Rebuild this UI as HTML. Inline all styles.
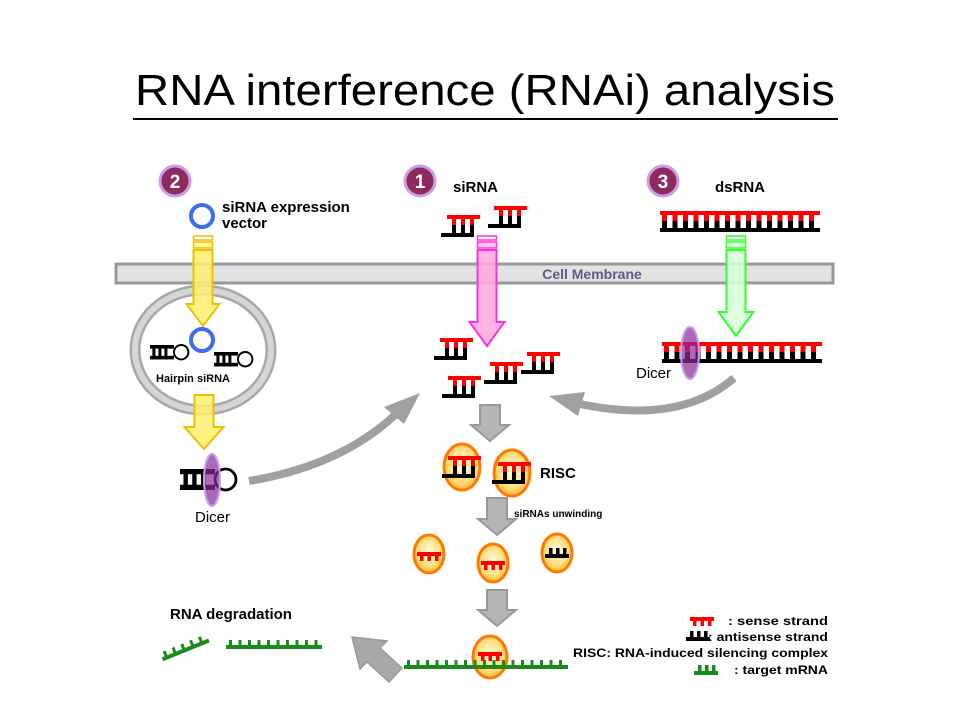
<!DOCTYPE html>
<html><head><meta charset="utf-8"><style>
html,body{margin:0;padding:0;background:#fff}
svg{display:block}
text{font-family:"Liberation Sans",sans-serif}
</style></head><body>
<svg id="s" width="960" height="720" viewBox="0 0 960 720">
<defs>
<radialGradient id="rg" cx="50%" cy="45%" r="55%"><stop offset="0" stop-color="#fffbe8"/><stop offset="0.6" stop-color="#ffe28a"/><stop offset="1" stop-color="#ffc040"/></radialGradient>
</defs>
<text x="485" y="105" font-size="44" text-anchor="middle" fill="#000" textLength="700" lengthAdjust="spacingAndGlyphs">RNA interference (RNAi) analysis</text>
<line x1="133" y1="119" x2="838" y2="119" stroke="#000" stroke-width="2"/>
<rect x="116" y="264" width="717" height="19" fill="#e2e2e2" stroke="#999" stroke-width="3"/>
<text x="592" y="279" font-size="14" font-weight="bold" fill="#5c5c8a" text-anchor="middle">Cell Membrane</text>
<g id="g"></g>
<text x="222" y="212" font-size="15" font-weight="bold">siRNA expression</text>
<text x="222" y="228" font-size="15" font-weight="bold">vector</text>
<text x="453" y="192" font-size="15" font-weight="bold">siRNA</text>
<text x="715" y="192" font-size="15" font-weight="bold">dsRNA</text>
<text x="156" y="382" font-size="11" font-weight="bold">Hairpin siRNA</text>
<text x="195" y="522" font-size="15">Dicer</text>
<text x="636" y="378" font-size="15">Dicer</text>
<text x="540" y="478" font-size="15" font-weight="bold">RISC</text>
<text x="514" y="517" font-size="10" font-weight="bold">siRNAs unwinding</text>
<text x="170" y="619" font-size="15" font-weight="bold">RNA degradation</text>
<g font-size="12" font-weight="bold">
<text x="728" y="625" textLength="100" lengthAdjust="spacingAndGlyphs">: sense  strand</text>
<text x="708" y="641" textLength="120" lengthAdjust="spacingAndGlyphs">: antisense strand</text>
<text x="573" y="657" textLength="255" lengthAdjust="spacingAndGlyphs">RISC: RNA-induced silencing complex</text>
<text x="734" y="674" textLength="94" lengthAdjust="spacingAndGlyphs">: target mRNA</text>
</g>
</svg>
<script>
const NS='http://www.w3.org/2000/svg';
const G=document.getElementById('g');
function el(tag,attrs,name,parent){const e=document.createElementNS(NS,tag);for(const k in attrs)e.setAttribute(k,attrs[k]);


(parent||G).appendChild(e);return e;}
function grp(name,parent){return el('g',{},name,parent);}
function duplex(x,y,name){const g=grp(name);
el('rect',{x:x,y:y,width:33,height:4,fill:'#f00'},'sense-bar',g);
for(let i=0;i<3;i++){el('rect',{x:x+5+i*9,y:y,width:4,height:10,fill:'#f00'},'sense-tooth',g);
el('rect',{x:x+5+i*9,y:y+10,width:4,height:9,fill:'#000'},'antisense-tooth',g);}
el('rect',{x:x-6,y:y+18,width:33,height:4,fill:'#000'},'antisense-bar',g);}
function dsrna(x,y,w,name){const g=grp(name);
el('rect',{x:x,y:y,width:w,height:4,fill:'#f00'},'dsrna-sense',g);
el('rect',{x:x,y:y+17,width:w,height:4,fill:'#000'},'dsrna-antisense',g);
for(let t=x+2;t<x+w-4;t+=10.5){el('rect',{x:t,y:y,width:5,height:10,fill:'#f00'},'dsrna-tooth',g);
el('rect',{x:t,y:y+10,width:5,height:8,fill:'#000'},'dsrna-tooth',g);}}
function hairpin(x,y,s,name){const g=grp(name);
el('rect',{x:x,y:y,width:20*s,height:3*s,fill:'#000'},'hp-top',g);
el('rect',{x:x,y:y+9*s,width:20*s,height:3*s,fill:'#000'},'hp-bottom',g);
for(let i=0;i<3;i++)el('rect',{x:x+2*s+i*5*s,y:y,width:2.5*s,height:12*s,fill:'#000'},'hp-rung',g);
el('circle',{cx:x+26*s,cy:y+6*s,r:6*s,fill:'#fff',stroke:'#000','stroke-width':1.6*s},'hp-loop',g);}
function badge(x,y,n,name){const g=grp(name);
el('circle',{cx:x,cy:y,r:15,fill:'#8e2a5e',stroke:'#c8a0e8','stroke-width':3},'badge-circle',g);
const t=el('text',{x:x,y:y+7,'font-size':19,'font-weight':'bold',fill:'#fff','text-anchor':'middle'},'badge-number',g);t.textContent=n;}
function downArrow(x,y1,y2,w,hw,hh,fill,stroke,name,stripes){const g=grp(name);
const p=`M${x-w/2},${y1} L${x+w/2},${y1} L${x+w/2},${y2-hh} L${x+hw/2},${y2-hh} L${x},${y2} L${x-hw/2},${y2-hh} L${x-w/2},${y2-hh} Z`;
el('path',{d:p,fill:fill,stroke:stroke,'stroke-width':2,'fill-opacity':0.85},'arrow-body',g);
if(stripes){el('rect',{x:x-w/2,y:y1-14,width:w,height:4,fill:'#fff',stroke:stroke,'stroke-width':1.5},'arrow-stripe',g);
el('rect',{x:x-w/2,y:y1-8,width:w,height:6,fill:fill,stroke:stroke,'stroke-width':1.5,'fill-opacity':0.6},'arrow-stripe',g);}}
function risc(cx,cy,rx,ry,name){return el('ellipse',{cx:cx,cy:cy,rx:rx,ry:ry,fill:'url(#rg)',stroke:'#ff7a00','stroke-width':3},name);}
function sense(x,y,name){const g=grp(name);el('rect',{x:x,y:y,width:24,height:4,fill:'#f00'},'s-bar',g);
for(let i=0;i<3;i++)el('rect',{x:x+3+i*7.5,y:y,width:3.5,height:9,fill:'#f00'},'s-tooth',g);}
function anti(x,y,name,c){const g=grp(name);el('rect',{x:x,y:y+6,width:24,height:4,fill:c||'#000'},'a-bar',g);
for(let i=0;i<3;i++)el('rect',{x:x+4+i*7,y:y,width:3.5,height:8,fill:c||'#000'},'a-tooth',g);}
function target(x,y,w,name,parent){const g=grp(name,parent);el('rect',{x:x,y:y+5,width:w,height:4,fill:'#1a8a1a'},'t-bar',g);
for(let t=x+3;t<x+w-2;t+=9.5)el('rect',{x:t,y:y,width:3,height:7,fill:'#1a8a1a'},'t-tooth',g);}

badge(175,181,'2','badge-2');badge(420,181,'1','badge-1');badge(663,181,'3','badge-3');
el('circle',{cx:202,cy:216,r:11,fill:'none',stroke:'#3a6cf4','stroke-width':4},'expression-vector');
el('ellipse',{cx:203,cy:350,rx:68,ry:60,fill:'#fff',stroke:'#a8a8a8','stroke-width':11},'nucleus');
el('ellipse',{cx:203,cy:350,rx:68,ry:60,fill:'none',stroke:'#d6d6d6','stroke-width':6},'nucleus-inner');
downArrow(203,250,326,19,33,22,'#fff070','#f0c000','yellow-arrow-1',true);
downArrow(204,395,449,19,39,22,'#fff070','#f0c000','yellow-arrow-2',false);
downArrow(487,250,346,19,35,24,'#ffa8d8','#ff30e0','pink-arrow',true);
downArrow(736,250,336,19,35,24,'#d8ffd8','#30ff30','green-arrow',true);
downArrow(490,405,441,20,38,16,'#a8a8a8','#999','grey-arrow-1',false);
downArrow(497,498,535,20,38,16,'#a8a8a8','#999','grey-arrow-2',false);
downArrow(497,590,626,20,38,16,'#a8a8a8','#999','grey-arrow-3',false);
el('path',{d:'M402,668 L380,648 L387,641 L352,637 L360,669 L367,662 L389,682 Z',fill:'#a8a8a8',stroke:'#999','stroke-width':1.5},'degradation-arrow');
el('path',{d:'M249,481 Q340,466 395,415',fill:'none',stroke:'#a0a0a0','stroke-width':8},'curve-arrow-left');
el('path',{d:'M420,393 L384,407 L404,424 Z',fill:'#a0a0a0'},'curve-arrow-left-head');
el('path',{d:'M734,378 Q680,425 580,404',fill:'none',stroke:'#a0a0a0','stroke-width':8},'curve-arrow-right');
el('path',{d:'M549,396 L585,392 L578,416 Z',fill:'#a0a0a0'},'curve-arrow-right-head');
el('circle',{cx:202,cy:340,r:11,fill:'none',stroke:'#3a6cf4','stroke-width':4},'vector-in-nucleus');
hairpin(150,345,1.2,'hairpin-1');hairpin(214,352,1.2,'hairpin-2');
hairpin(180,469,1.75,'hairpin-dicer');
el('ellipse',{cx:212,cy:480,rx:8,ry:26,fill:'#8a2a9a','fill-opacity':0.7,stroke:'#c8a0e8','stroke-width':2},'dicer-left');
duplex(447,215,'sirna-1');duplex(494,206,'sirna-2');
duplex(440,338,'sirna-3');duplex(448,376,'sirna-4');duplex(490,362,'sirna-5');duplex(527,352,'sirna-6');
dsrna(660,211,160,'dsrna');
dsrna(662,342,160,'dsrna-diced');
el('ellipse',{cx:690,cy:353,rx:9,ry:26,fill:'#8a2a9a','fill-opacity':0.7,stroke:'#c8a0e8','stroke-width':2},'dicer-right');
risc(462,467,18,23,'risc-1');risc(512,473,18,23,'risc-2');
duplex(448,456,'risc-sirna-1');duplex(498,462,'risc-sirna-2');
risc(429,554,15,19,'risc-sense-1');sense(417,552,'risc-sense-strand-1');
risc(493,563,15,19,'risc-sense-2');sense(481,561,'risc-sense-strand-2');
risc(557,553,15,19,'risc-antisense');anti(545,548,'risc-antisense-strand');
risc(490,657,17,21,'risc-target');
target(404,660,164,'target-mrna');sense(478,652,'risc-bound-sense');
target(226,640,96,'degraded-mrna-1');
const dg=grp('degraded-mrna-2');dg.setAttribute('transform','rotate(-22 185 648)');target(160,643,50,'degraded-fragment',dg);
sense(690,617,'legend-sense-glyph');anti(686,631,'legend-antisense-glyph');anti(694,665,'legend-target-glyph','#1a8a1a');
</script>
</body></html>
